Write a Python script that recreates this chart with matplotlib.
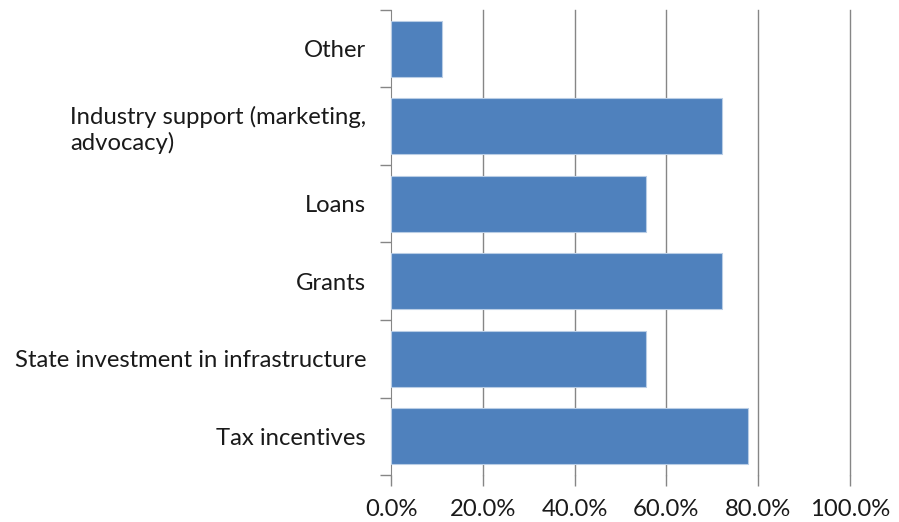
import matplotlib
matplotlib.use('Agg')
import matplotlib.pyplot as plt
from matplotlib.ticker import FuncFormatter

# Categorias y porcentajes
categorias = ['Tax incentives', 'State investment in infrastructure', 'Grants',
              'Loans', 'Industry support (marketing,\nadvocacy)', 'Other']
valores = [77.8, 55.6, 72.2, 55.6, 72.2, 11.1]
ticks_x = [0, 20, 40, 60, 80, 100]

plt.rcParams['font.family'] = ['Lato', 'DejaVu Sans']

fig = plt.figure(figsize=(8.99, 5.22), dpi=100)
ax = fig.add_axes([0.435, 0.090, 0.5105, 0.891])

pos = range(len(categorias))
ax.barh(pos, valores, height=0.72, color='#4F81BD', edgecolor='#B9CDE5',
        linewidth=0.8, zorder=3)

ax.set_xlim(0, 100)
ax.set_ylim(-0.5, len(categorias) - 0.5)
ax.set_xticks(ticks_x)
ax.xaxis.set_major_formatter(FuncFormatter(lambda v, p: '%.1f%%' % v))

# Ticks del eje y en los limites entre categorias
ax.set_yticks([p for p in pos])
ax.set_yticklabels(categorias, ha='right', multialignment='left')
ax.set_yticks([p - 0.5 for p in range(len(categorias) + 1)], minor=True)
ax.tick_params(axis='y', which='major', length=0, pad=18, labelsize=17.2)
ax.tick_params(axis='y', which='minor', length=8, color='#868686', width=1)
ax.tick_params(axis='x', length=8, color='#868686', width=1, labelsize=17.2,
               pad=9)

# Lineas de cuadricula verticales (sin recortar la de 100%)
for v in ticks_x[1:]:
    ax.axvline(v, color='#868686', linewidth=1, zorder=0, clip_on=False)
for lado in ['top', 'right', 'bottom']:
    ax.spines[lado].set_visible(False)
ax.spines['left'].set_color('#868686')

for t in ax.get_yticklabels() + ax.get_xticklabels():
    t.set_color('#1a1a1a')

fig.savefig('out.png', dpi=100)
